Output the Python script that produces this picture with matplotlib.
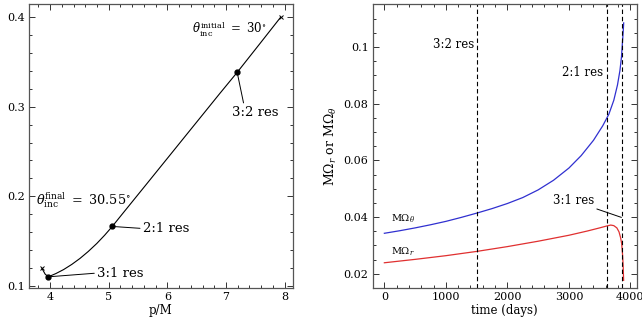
import numpy as np
import matplotlib.pyplot as plt
from matplotlib.ticker import MultipleLocator

plt.rcParams['font.family'] = 'DejaVu Serif'
plt.rcParams['mathtext.fontset'] = 'dejavuserif'

# left panel: eccentricity vs semi-latus rectum
p_orbit = [7.93, 7.57, 7.19, 6.89, 6.61, 6.30, 6.04, 5.84, 5.65, 5.42, 5.20,
           5.06, 4.93, 4.795, 4.65, 4.51, 4.37, 4.23, 4.10, 3.97, 3.915, 3.86]
e_orbit = [0.400, 0.370, 0.3385, 0.3146, 0.2919, 0.2668, 0.2457, 0.2295,
           0.2141, 0.1955, 0.1777, 0.1663, 0.1565, 0.1472, 0.1383, 0.1306,
           0.1239, 0.1181, 0.1137, 0.110, 0.113, 0.1195]
res_p = [7.19, 5.06, 3.97]
res_e = [0.3385, 0.1663, 0.110]
res_names = ['3:2 res', '2:1 res', '3:1 res']

# right panel: frequencies vs time
t_theta = [0, 250, 500, 750, 1000, 1250, 1500, 1750, 2000, 2250, 2500, 2750,
           3000, 3200, 3400, 3550, 3650, 3730, 3790, 3830, 3855, 3872, 3884,
           3891]
om_theta = [0.0343, 0.0352, 0.0362, 0.0373, 0.0385, 0.0399, 0.0414, 0.0430,
            0.0448, 0.0469, 0.0496, 0.0530, 0.0573, 0.0617, 0.0671, 0.0722,
            0.0763, 0.0812, 0.0866, 0.0917, 0.0965, 0.1020, 0.1058, 0.1085]
t_r = [0, 500, 1000, 1500, 2000, 2500, 3000, 3300, 3500, 3620, 3680, 3730,
       3780, 3815, 3840, 3858, 3872, 3882, 3890]
om_r = [0.0239, 0.0251, 0.0264, 0.0279, 0.0296, 0.0315, 0.0336, 0.0351,
        0.0362, 0.0369, 0.0372, 0.0370, 0.0362, 0.0348, 0.0328, 0.0307,
        0.0270, 0.0230, 0.0177]
t_res = [1510, 3620, 3868]

fig = plt.figure(figsize=(6.42, 3.21), dpi=100)
ax1 = fig.add_axes([0.0452, 0.1028, 0.411, 0.885])
ax2 = fig.add_axes([0.5805, 0.1028, 0.411, 0.885])

for ax in (ax1, ax2):
    ax.tick_params(which='both', direction='in', top=True, right=True,
                   labelsize=8, width=0.7, color='#333333', pad=3)
    ax.tick_params(which='major', length=4)
    ax.tick_params(which='minor', length=2)
    for s in ax.spines.values():
        s.set_linewidth(0.9)
        s.set_color('#555555')

ax1.plot(p_orbit, e_orbit, color='black', lw=0.8)
ax1.plot([p_orbit[0], p_orbit[-1]], [e_orbit[0], e_orbit[-1]], 'x',
         color='black', ms=3, mew=0.7)
ax1.plot(res_p, res_e, 'o', color='black', ms=3.5)
ax1.set_xlim(3.64, 8.14)
ax1.set_ylim(0.0975, 0.415)
ax1.xaxis.set_major_locator(MultipleLocator(1))
ax1.xaxis.set_minor_locator(MultipleLocator(0.2))
ax1.yaxis.set_major_locator(MultipleLocator(0.1))
ax1.yaxis.set_minor_locator(MultipleLocator(0.02))
ax1.set_xlabel('p/M', fontsize=8.5, labelpad=1.5)
ax1.set_ylabel('e', fontsize=8.5)
ax1.yaxis.set_label_coords(-0.108, 0.5)

ax1.annotate(res_names[0], xy=(res_p[0], res_e[0]), xytext=(7.11, 0.294),
             fontsize=9.5, va='center',
             arrowprops=dict(arrowstyle='-', color='black', lw=0.7,
                             shrinkA=0, shrinkB=0, relpos=(0.25, 1.0)))
ax1.annotate(res_names[1], xy=(res_p[1], res_e[1]), xytext=(5.58, 0.164),
             fontsize=9.5, va='center',
             arrowprops=dict(arrowstyle='-', color='black', lw=0.7,
                             shrinkA=0, shrinkB=0, relpos=(0.0, 0.5)))
ax1.annotate(res_names[2], xy=(res_p[2], res_e[2]), xytext=(4.80, 0.1142),
             fontsize=9.5, va='center',
             arrowprops=dict(arrowstyle='-', color='black', lw=0.7,
                             shrinkA=0, shrinkB=0, relpos=(0.0, 0.5)))
ax1.text(7.69, 0.387, r'$\theta_{\rm inc}^{\rm initial}\ =\ 30^{\circ}$',
         fontsize=8.5, ha='right', va='center')
ax1.text(3.76, 0.196, r'$\theta_{\rm inc}^{\rm final}\ =\ 30.55^{\circ}$',
         fontsize=9.2, ha='left', va='center')

ax2.plot(t_theta, om_theta, color='#3030d0', lw=0.9)
ax2.plot(t_r, om_r, color='#e03030', lw=0.9)
for t in t_res:
    ax2.axvline(t, color='black', lw=0.8, ls=(0, (4, 2.5)))
ax2.set_xlim(-190, 4100)
ax2.set_ylim(0.015, 0.1152)
ax2.xaxis.set_major_locator(MultipleLocator(1000))
ax2.xaxis.set_minor_locator(MultipleLocator(200))
ax2.yaxis.set_minor_locator(MultipleLocator(0.005))
ax2.set_yticks([0.02, 0.04, 0.06, 0.08, 0.1])
ax2.set_yticklabels(['0.02', '0.04', '0.06', '0.08', '0.1'])
ax2.set_xlabel('time (days)', fontsize=8.5, labelpad=1.5)
ax2.set_ylabel(r'M$\Omega_r$ or M$\Omega_\theta$', fontsize=9, labelpad=3)

ax2.text(786, 0.1009, '3:2 res', fontsize=8.5, va='center')
ax2.text(2886, 0.091, '2:1 res', fontsize=8.5, va='center')
ax2.annotate('3:1 res', xy=(3854, 0.0399), xytext=(2739, 0.046),
             fontsize=8.5, va='center',
             arrowprops=dict(arrowstyle='-', color='black', lw=0.7,
                             shrinkA=0, shrinkB=0, relpos=(0.9, 0.0)))
ax2.text(104, 0.0393, r'M$\Omega_\theta$', fontsize=7, va='center')
ax2.text(104, 0.0277, r'M$\Omega_r$', fontsize=7, va='center')

fig.savefig('out.png', dpi=100)
